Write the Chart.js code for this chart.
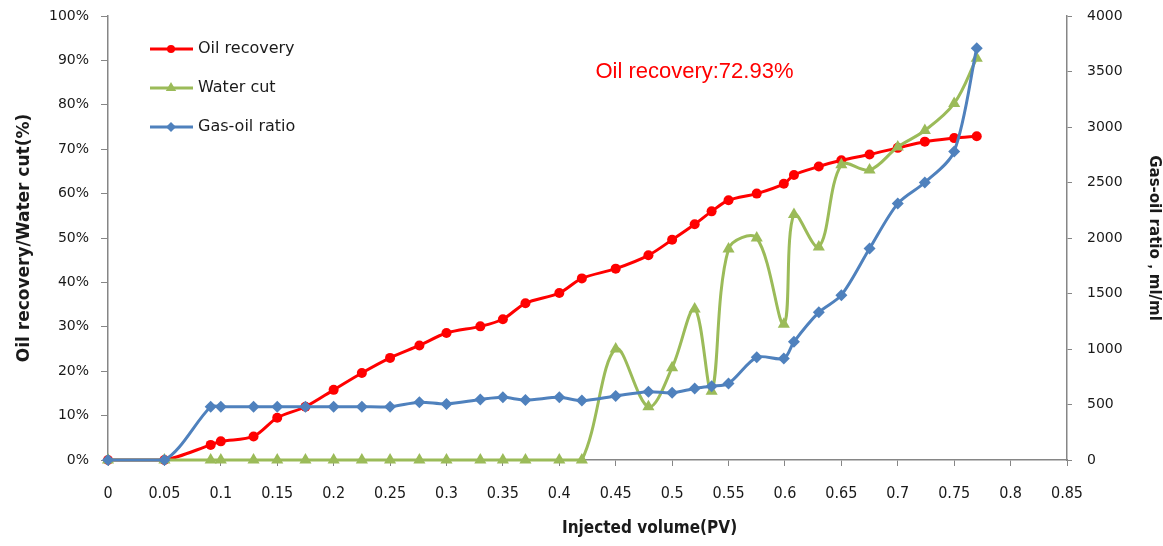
<!DOCTYPE html>
<html>
<head>
<meta charset="utf-8">
<script src="https://cdn.jsdelivr.net/npm/chart.js@4"></script>
<style>
  html, body { margin: 0; padding: 0; background: #fff; }
  #wrap { width: 1163px; height: 546px; }
</style>
</head>
<body>
<div id="wrap"><canvas id="chart" width="1163" height="546"></canvas></div>
<script>
// injected volume (PV)
const injected = [0, 0.05, 0.091, 0.1, 0.129, 0.15, 0.175, 0.2, 0.225, 0.25, 0.276, 0.3, 0.33, 0.35, 0.37, 0.4, 0.42,
    0.45, 0.479, 0.5, 0.52, 0.535, 0.55, 0.575, 0.599, 0.608, 0.63, 0.65, 0.675, 0.7, 0.724, 0.75, 0.77];
// oil recovery (%)
const oilRecovery = [0, 0, 3.4, 4.2, 5.3, 9.5, 12.0, 15.8, 19.6, 23.0, 25.8, 28.6, 30.1, 31.7, 35.3, 37.6, 40.9,
    43.1, 46.1, 49.6, 53.1, 56.0, 58.5, 60.0, 62.2, 64.2, 66.1, 67.5, 68.8, 70.3, 71.7, 72.5, 72.93];
// water cut (%)
const waterCut = [0, 0, 0, 0, 0, 0, 0, 0, 0, 0, 0, 0, 0, 0, 0, 0, 0,
    25.0, 12.0, 20.8, 34.0, 15.5, 47.5, 50.0, 30.6, 55.3, 48.0, 66.5, 65.3, 70.5, 74.2, 80.3, 90.5];
// gas-oil ratio (ml/ml)
const gasOilRatio = [0, 0, 480, 480, 480, 480, 480, 480, 480, 480, 520, 505, 545, 565, 540, 565, 535,
    577, 615, 605, 645, 665, 690, 925, 915, 1065, 1330, 1485, 1905, 2310, 2500, 2780, 3710];

const seriesNames = ['Oil recovery', 'Water cut', 'Gas-oil ratio'];
const noteText = 'Oil recovery:72.93%';
const xTitle = 'Injected volume(PV)';

const RED = '#FF0000';
const GREEN = '#9BBB59';
const BLUE = '#4F81BD';
const AXIS = '#868686';
const TEXT = '#1a1a1a';
const NARROW = '"Liberation Sans Narrow", "DejaVu Sans Condensed", sans-serif';

const pts = (ys) => injected.map((x, i) => ({ x: x, y: ys[i] }));

// keep the tick padding from pushing the plot area down
const fitVertical = (w) => (s) => {
    s.width = w;
    s.paddingTop = 8;
    s.paddingBottom = 8;
};

// legend, note and x title drawn by hand like the Excel original
const overlay = {
    id: 'overlay',
    afterDraw(chart) {
        const c = chart.ctx;
        const area = chart.chartArea;
        const items = [
            { label: seriesNames[0], color: RED, style: 'circle', r: 4 },
            { label: seriesNames[1], color: GREEN, style: 'triangle', r: 6 },
            { label: seriesNames[2], color: BLUE, style: 'rectRot', r: 5 }
        ];
        c.save();
        items.forEach((it, i) => {
            const y = 49 + i * 39;
            const x0 = area.left + 42;
            c.strokeStyle = it.color;
            c.lineWidth = 3;
            c.beginPath();
            c.moveTo(x0, y);
            c.lineTo(x0 + 43, y);
            c.stroke();
            c.fillStyle = it.color;
            Chart.helpers.drawPoint(c, { pointStyle: it.style, radius: it.r, borderWidth: 0 }, x0 + 21, y);
            c.fillStyle = TEXT;
            c.font = '16px "DejaVu Sans", sans-serif';
            c.textBaseline = 'middle';
            c.textAlign = 'left';
            c.fillText(it.label, x0 + 48, y);
        });
        const xs = chart.scales.x;
        const ys = chart.scales.y;
        c.fillStyle = RED;
        c.font = '22px "Liberation Sans", Arial, sans-serif';
        c.textBaseline = 'middle';
        c.fillText(noteText, xs.getPixelForValue(0.432), ys.getPixelForValue(87.5));

        c.fillStyle = TEXT;
        c.font = 'bold 17px ' + NARROW;
        c.textAlign = 'center';
        c.fillText(xTitle, xs.getPixelForValue(0.48), 529);
        c.restore();
    }
};

new Chart(document.getElementById('chart'), {
    type: 'line',
    data: {
        datasets: [
            {
                label: seriesNames[0],
                data: pts(oilRecovery),
                yAxisID: 'y',
                borderColor: RED,
                backgroundColor: RED,
                borderWidth: 3,
                pointStyle: 'circle',
                pointRadius: 5,
                pointBorderWidth: 0,
                tension: 0.3,
                order: 3
            },
            {
                label: seriesNames[1],
                data: pts(waterCut),
                yAxisID: 'y',
                borderColor: GREEN,
                backgroundColor: GREEN,
                borderWidth: 3,
                pointStyle: 'triangle',
                pointRadius: 7,
                pointBorderWidth: 0,
                tension: 0.35,
                order: 2
            },
            {
                label: seriesNames[2],
                data: pts(gasOilRatio),
                yAxisID: 'y1',
                borderColor: BLUE,
                backgroundColor: BLUE,
                borderWidth: 3,
                pointStyle: 'rectRot',
                pointRadius: 6,
                pointBorderWidth: 0,
                tension: 0.3,
                order: 1
            }
        ]
    },
    options: {
        responsive: false,
        animation: false,
        clip: false,
        layout: { padding: { top: 16, left: 0, right: 0, bottom: 0 } },
        plugins: {
            legend: { display: false },
            tooltip: { enabled: false }
        },
        scales: {
            x: {
                type: 'linear',
                min: 0,
                max: 0.85,
                afterFit: (s) => { s.height = 86; },
                afterBuildTicks: (s) => {
                    s.ticks = [];
                    for (let i = 0; i <= 17; i++) s.ticks.push({ value: +(i * 0.05).toFixed(2) });
                },
                ticks: {
                    color: TEXT,
                    font: { family: NARROW, size: 16 },
                    padding: 18,
                    maxRotation: 0,
                    autoSkip: false,
                    callback: (v) => String(+Number(v).toFixed(2))
                },
                grid: { drawOnChartArea: false, color: AXIS, tickLength: 6 },
                border: { color: AXIS, width: 1.5 }
            },
            y: {
                position: 'left',
                min: 0,
                max: 100,
                afterFit: fitVertical(108),
                ticks: {
                    stepSize: 10,
                    color: TEXT,
                    font: { family: '"DejaVu Sans", sans-serif', size: 14 },
                    padding: 12,
                    callback: (v) => v + '%'
                },
                grid: { drawOnChartArea: false, color: AXIS, tickLength: 7 },
                border: { color: AXIS, width: 1.5 },
                title: {
                    display: true,
                    text: 'Oil recovery/Water cut(%)',
                    color: TEXT,
                    font: { family: '"DejaVu Sans", sans-serif', size: 17, weight: 'bold' },
                    padding: { top: 14, bottom: 0 }
                }
            },
            y1: {
                position: 'right',
                min: 0,
                max: 4000,
                afterFit: fitVertical(96),
                ticks: {
                    stepSize: 500,
                    color: TEXT,
                    font: { family: '"DejaVu Sans", sans-serif', size: 14 },
                    padding: 15,
                    callback: (v) => String(v)
                },
                grid: { drawOnChartArea: false, color: AXIS, tickLength: 5 },
                border: { color: AXIS, width: 1.5 },
                title: {
                    display: true,
                    text: 'Gas-oil ratio，ml/ml',
                    color: TEXT,
                    font: { family: '"DejaVu Sans", sans-serif', size: 15, weight: 'bold' },
                    padding: { top: 0, bottom: 3 }
                }
            }
        }
    },
    plugins: [overlay]
});
</script>
</body>
</html>
